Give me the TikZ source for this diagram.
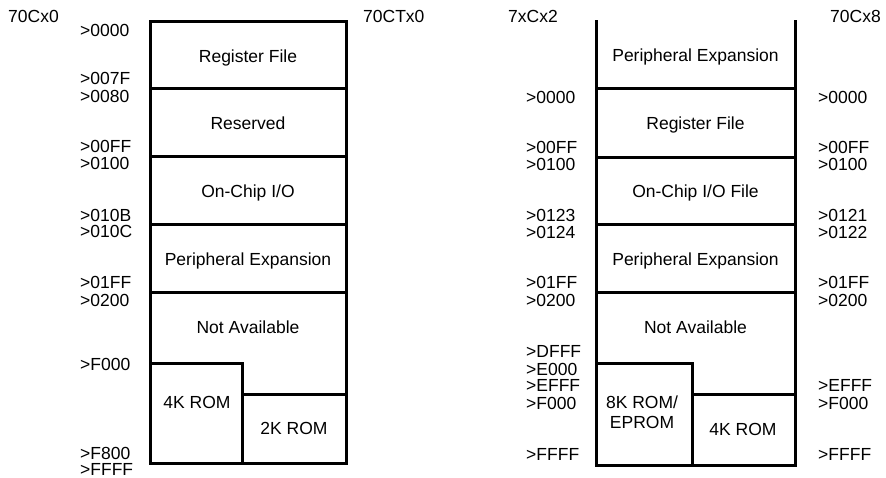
\documentclass[tikz,border=0pt]{standalone}
\usepackage{fontspec}
\setmainfont{Liberation Sans}
\begin{document}
\begin{tikzpicture}[x=1pt,y=-1pt,
  every node/.style={font=\fontsize{17.5}{19}\selectfont, inner sep=0pt},
  wall/.style={line width=3pt, line cap=rect},
  addr/.style={anchor=base west},
  region/.style={anchor=base, align=center}]
\useasboundingbox (0,0) rectangle (886,478);
% ---------- left map ----------
\draw[wall] (150,22) rectangle (346,463);
\draw[wall] (150,89) -- (346,89);
\draw[wall] (150,157) -- (346,157);
\draw[wall] (150,225) -- (346,225);
\draw[wall] (150,293) -- (346,293);
\draw[wall] (150,363) -- (242,363) -- (242,463);
\draw[wall] (242,394) -- (346,394);
\node[anchor=base west] (t1) at (8,23) {70Cx0};
\node[anchor=base west] (t2) at (363,23) {70CTx0};
\node[region] (l1) at (248,62.7) {Register File};
\node[region] (l2) at (248,130) {Reserved};
\node[region] (l3) at (248,198) {On-Chip I/O};
\node[region] (l4) at (248,266) {Peripheral Expansion};
\node[region] (l5) at (248,333) {Not Available};
\node[region] (l6) at (197,408) {4K ROM};
\node[region] (l7) at (294,434.5) {2K ROM};
\node[addr] (a1) at (80,36.7) {>0000};
\node[addr] (a2) at (80,85) {>007F};
\node[addr] (a3) at (80,103) {>0080};
\node[addr] (a4) at (80,153) {>00FF};
\node[addr] (a5) at (80,170) {>0100};
\node[addr] (a6) at (80,221.7) {>010B};
\node[addr] (a7) at (80,238) {>010C};
\node[addr] (a8) at (80,289) {>01FF};
\node[addr] (a9) at (80,307) {>0200};
\node[addr] (a10) at (80,370) {>F000};
\node[addr] (a11) at (80,459) {>F800};
\node[addr] (a12) at (80,475) {>FFFF};
% ---------- right map ----------
\draw[wall] (596,22) -- (596,465) -- (795,465) -- (795,22);
\draw[wall] (596,89) -- (795,89);
\draw[wall] (596,158) -- (795,158);
\draw[wall] (596,225) -- (795,225);
\draw[wall] (596,293) -- (795,293);
\draw[wall] (596,363) -- (692,363) -- (692,465);
\draw[wall] (692,394) -- (795,394);
\node[anchor=base west] (t3) at (508,23) {7xCx2};
\node[anchor=base west] (t4) at (830,23) {70Cx8};
\node[region] (r0) at (695.5,62) {Peripheral Expansion};
\node[region] (r1) at (695.5,130) {Register File};
\node[region] (r2) at (695.5,198) {On-Chip I/O File};
\node[region] (r3) at (695.5,266) {Peripheral Expansion};
\node[region] (r4) at (695.5,333) {Not Available};
\node[region] (r5a) at (642,408) {8K ROM/};
\node[region] (r5b) at (642,428) {EPROM};
\node[region] (r6) at (743,435) {4K ROM};
\node[addr] (b1) at (526,104) {>0000};
\node[addr] (b2) at (526,154) {>00FF};
\node[addr] (b3) at (526,170.7) {>0100};
\node[addr] (b4) at (526,221.7) {>0123};
\node[addr] (b5) at (526,239) {>0124};
\node[addr] (b6) at (526,289) {>01FF};
\node[addr] (b7) at (526,307) {>0200};
\node[addr] (b8) at (526,357) {>DFFF};
\node[addr] (b9) at (526,375) {>E000};
\node[addr] (b10) at (526,391.7) {>EFFF};
\node[addr] (b11) at (526,409) {>F000};
\node[addr] (b12) at (526,460) {>FFFF};
\node[addr] (c1) at (818,104) {>0000};
\node[addr] (c2) at (818,154) {>00FF};
\node[addr] (c3) at (818,170.7) {>0100};
\node[addr] (c4) at (818,221.7) {>0121};
\node[addr] (c5) at (818,239) {>0122};
\node[addr] (c6) at (818,289) {>01FF};
\node[addr] (c7) at (818,307) {>0200};
\node[addr] (c8) at (818,391.7) {>EFFF};
\node[addr] (c9) at (818,409) {>F000};
\node[addr] (c10) at (818,460.5) {>FFFF};
\end{tikzpicture}
\end{document}
